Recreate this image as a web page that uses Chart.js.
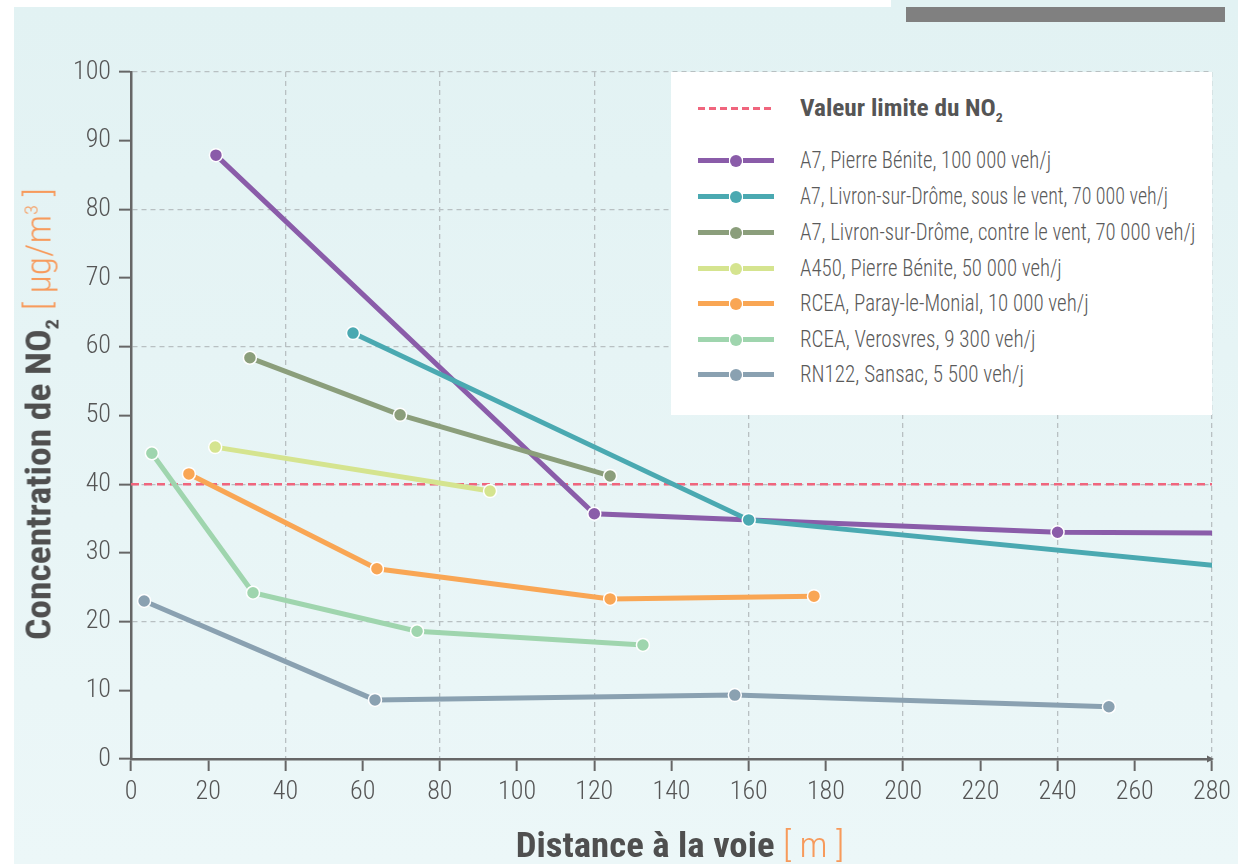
<!DOCTYPE html>
<html>
<head>
<meta charset="utf-8">
<script src="https://cdn.jsdelivr.net/npm/chart.js@4.4.0/dist/chart.umd.min.js"></script>
<style>
  html, body { margin:0; padding:0; width:1238px; height:864px; overflow:hidden; background:#ffffff; }
  body { position:relative; font-family:"Roboto Condensed","Open Sans",sans-serif; }
  #bg { position:absolute; left:14px; top:7px; right:0; bottom:0; background:linear-gradient(#e2f2f3, #ecf7f8); }
  #topcyan { position:absolute; left:891px; top:0; width:347px; height:7px; background:#e2f2f3; }
  #graybar { position:absolute; left:906px; top:7px; width:319px; height:15px; background:#808080; }
  #c { position:absolute; left:0; top:0; }
  #legend { position:absolute; left:671px; top:72px; width:541px; height:343px; background:#ffffff; }
  .row { position:absolute; left:0; height:30px; width:541px; }
  .txt { position:absolute; left:129px; white-space:nowrap; color:#5a5a5a; font-size:24px; font-weight:300; line-height:30px; top:0; transform-origin:left center; }
  .ttl { font-weight:bold; color:#555; font-size:24px; }
  .seg { position:absolute; height:5px; top:13px; }
  .dot { position:absolute; width:12px; height:12px; border-radius:50%; top:9.5px; left:59px; }
  .dash { position:absolute; left:27px; width:76px; top:14px; height:3px;
          background:repeating-linear-gradient(90deg, #f0657d 0 7px, transparent 7px 11px); }
  #ytitle { position:absolute; left:41px; top:414px; white-space:nowrap; transform:translate(-50%,-50%) rotate(-90deg); color:#4f4f4f; font-size:35px; font-weight:bold; }
  #xtitle { position:absolute; left:680px; top:845px; white-space:nowrap; transform:translate(-50%,-50%); color:#4f4f4f; font-size:35px; font-weight:bold; }
  .unit { color:#f79a5b; font-weight:300; }
  sub, sup { font-size:55%; }
</style>
</head>
<body>
<div id="bg"></div>
<div id="topcyan"></div>
<div id="graybar"></div>
<canvas id="c" width="1238" height="864"></canvas>
<div id="legend"></div>
<div id="ytitle">Concentration de NO<sub>2</sub> <span class="unit">[ µg/m<sup>3</sup> ]</span></div>
<div id="xtitle">Distance à la voie <span class="unit">[ m ]</span></div>
<script>
// ---- Data ----
const seriesNames = [
  "A7, Pierre Bénite, 100 000 veh/j",
  "A7, Livron-sur-Drôme, sous le vent, 70 000 veh/j",
  "A7, Livron-sur-Drôme, contre le vent, 70 000 veh/j",
  "A450, Pierre Bénite, 50 000 veh/j",
  "RCEA, Paray-le-Monial, 10 000 veh/j",
  "RCEA, Verosvres, 9 300 veh/j",
  "RN122, Sansac, 5 500 veh/j"
];
const limitName = "Valeur limite du NO₂";
const limitValue = 40;

const a7PierreBeniteX = [22, 120, 240, 300];
const a7PierreBeniteY = [87.9, 35.7, 33.0, 32.85];
const a7LivronSousX = [57.5, 160, 300];
const a7LivronSousY = [62.0, 34.8, 27.1];
const a7LivronContreX = [30.8, 69.7, 124.1];
const a7LivronContreY = [58.4, 50.1, 41.2];
const a450X = [21.8, 93.0];
const a450Y = [45.4, 39.0];
const rceaParayX = [15.0, 63.7, 124.1, 176.9];
const rceaParayY = [41.5, 27.7, 23.3, 23.7];
const rceaVerosvresX = [5.4, 31.6, 74.1, 132.6];
const rceaVerosvresY = [44.5, 24.2, 18.6, 16.6];
const rn122X = [3.4, 63.2, 156.4, 253.3];
const rn122Y = [23.0, 8.6, 9.3, 7.6];

const xTickValues = [0,20,40,60,80,100,120,140,160,180,200,220,240,260,280];
const yTickValues = [0,10,20,30,40,50,60,70,80,90,100];

const seriesColors = ["#8a5ca9", "#4aa9b1", "#8b9e7b", "#d5e48f", "#f9a654", "#9fd5ae", "#8aa1b1"];

// ---- Build datasets ----
const xs = [a7PierreBeniteX, a7LivronSousX, a7LivronContreX, a450X, rceaParayX, rceaVerosvresX, rn122X];
const ys = [a7PierreBeniteY, a7LivronSousY, a7LivronContreY, a450Y, rceaParayY, rceaVerosvresY, rn122Y];

const datasets = seriesNames.map((name, i) => ({
  label: name,
  data: xs[i].map((x, k) => ({x: x, y: ys[i][k]})),
  borderColor: seriesColors[i],
  backgroundColor: seriesColors[i],
  borderWidth: 5,
  pointRadius: 6.5,
  pointBorderColor: "#ffffff",
  pointBorderWidth: 1.5,
  pointBackgroundColor: seriesColors[i],
  tension: 0,
  clip: 0,
  order: 7 - i
}));
datasets.push({
  label: limitName,
  data: [{x: xTickValues[0], y: limitValue}, {x: xTickValues[xTickValues.length-1], y: limitValue}],
  borderColor: "#f0657d",
  borderWidth: 2.5,
  borderDash: [8, 5],
  pointRadius: 0,
  tension: 0,
  order: 20
});

const FONT = "'Roboto Condensed','Open Sans',sans-serif";

const arrowPlugin = {
  id: 'arrows',
  afterDraw(chart) {
    const {ctx, chartArea: a} = chart;
    ctx.save();
    ctx.fillStyle = "#666";
    ctx.beginPath();
    ctx.moveTo(a.right + 2, a.bottom);
    ctx.lineTo(a.right - 5, a.bottom - 3.5);
    ctx.lineTo(a.right - 5, a.bottom + 3.5);
    ctx.closePath();
    ctx.fill();
    ctx.restore();
  }
};

new Chart(document.getElementById('c'), {
  type: 'line',
  data: { datasets },
  options: {
    responsive: false,
    animation: false,
    layout: { padding: { top: 72, right: 26, left: 0, bottom: 0 } },
    plugins: { legend: { display: false }, tooltip: { enabled: false } },
    scales: {
      x: {
        type: 'linear',
        min: xTickValues[0], max: xTickValues[xTickValues.length-1],
        afterBuildTicks: s => { s.ticks = xTickValues.map(v => ({value: v})); },
        afterFit: s => { s.height = 105; },
        ticks: { font: { family: FONT, size: 26, weight: 300 }, color: "#555", padding: 6, maxRotation: 0, autoSkip: false },
        grid: {
          color: c => (c.tick && c.tick.value % 40 === 0 && c.tick.value !== 0) ? "#b8c0c2" : "rgba(0,0,0,0)",
          lineWidth: 1.3,
          tickColor: "#666", tickLength: 12, tickWidth: 2
        },
        border: { color: "#666", width: 2.5, dash: [5, 4] }
      },
      y: {
        type: 'linear',
        min: yTickValues[0], max: yTickValues[yTickValues.length-1],
        afterBuildTicks: s => { s.ticks = yTickValues.map(v => ({value: v})); },
        afterFit: s => { s.width = 131; },
        ticks: { font: { family: FONT, size: 26, weight: 300 }, color: "#555", padding: 8 },
        grid: {
          color: c => (c.tick && c.tick.value % 20 === 0 && c.tick.value !== 0) ? "#b8c0c2" : "rgba(0,0,0,0)",
          lineWidth: 1.3,
          tickColor: "#666", tickLength: 12, tickWidth: 2
        },
        border: { color: "#666", width: 2.5, dash: [5, 4] }
      }
    }
  },
  plugins: [arrowPlugin]
});

// ---- HTML legend ----
const lg = document.getElementById('legend');
const rowTops = [21, 73, 109, 145, 181, 216, 252, 287];
// text widths as measured in the reference (layout only)
const legendTextWidths = [203, 251, 368, 395, 262, 289, 236, 224];
const fitEls = [];
let r = document.createElement('div');
r.className = 'row'; r.style.top = rowTops[0] + 'px';
r.innerHTML = '<div class="dash"></div><div class="txt ttl">Valeur limite du NO<sub>2</sub></div>';
lg.appendChild(r);
fitEls.push([r.querySelector('.txt'), legendTextWidths[0], '']);
seriesNames.forEach((n, i) => {
  const d = document.createElement('div');
  d.className = 'row'; d.style.top = rowTops[i+1] + 'px';
  const c = seriesColors[i];
  d.innerHTML =
    '<div class="seg" style="left:27px;width:31px;background:' + c + '"></div>' +
    '<div class="dot" style="background:' + c + '"></div>' +
    '<div class="seg" style="left:72px;width:31px;background:' + c + '"></div>' +
    '<div class="txt"></div>';
  d.querySelector('.txt').textContent = n;
  lg.appendChild(d);
  fitEls.push([d.querySelector('.txt'), legendTextWidths[i+1], '']);
});
fitEls.push([document.getElementById('ytitle'), 452, 'translate(-50%,-50%) rotate(-90deg) ']);
fitEls.push([document.getElementById('xtitle'), 329, 'translate(-50%,-50%) ']);
function fitAll() {
  fitEls.forEach(([el, w, pre]) => {
    const k = w / el.offsetWidth;
    el.style.transform = pre + 'scaleX(' + k.toFixed(4) + ')';
  });
}
fitAll();
if (document.fonts && document.fonts.ready) document.fonts.ready.then(fitAll);
</script>
</body>
</html>
